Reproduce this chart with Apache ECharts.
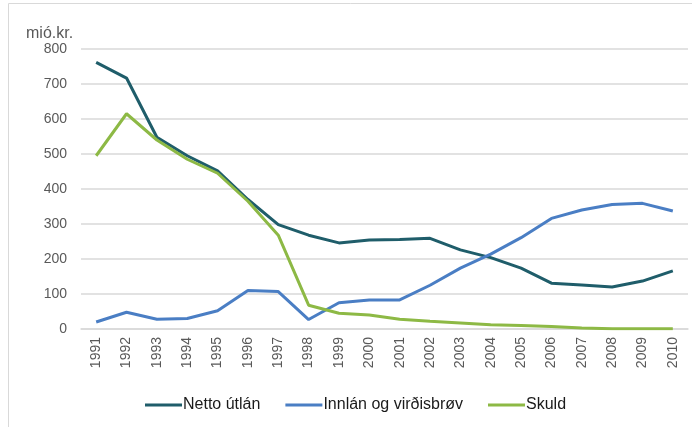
<!DOCTYPE html>
<html>
<head>
    <meta charset="utf-8">
    <title>Netto útlán</title>
    <script src="https://cdn.jsdelivr.net/npm/echarts@6/dist/echarts.min.js" type="text/javascript" charset="utf-8"></script>
    <style>
        html, body { margin: 0; padding: 0; background: #fff; }
    </style>
</head>
<body>
<div id="div01" style="width: 692px;height: 427px;"></div>
<script type="text/javascript">
    // ár
    var years = ['1991', '1992', '1993', '1994', '1995', '1996', '1997', '1998', '1999', '2000',
        '2001', '2002', '2003', '2004', '2005', '2006', '2007', '2008', '2009', '2010'];
    var nettoUtlan = [762, 717, 548, 495, 452, 370, 298, 268, 246, 254,
        256, 259, 226, 204, 174, 131, 126, 120, 137, 166];
    var innlan = [20, 48, 28, 30, 52, 110, 107, 27, 75, 83,
        83, 125, 174, 214, 261, 316, 340, 356, 359, 337];
    var skuld = [495, 615, 540, 485, 445, 365, 268, 68, 45, 40,
        28, 22, 17, 12, 10, 7, 3, 1, 1, 1];
    var yTicks = [0, 100, 200, 300, 400, 500, 600, 700, 800];

    var myChart = echarts.init(document.getElementById("div01"));

    function lineSeries(name, data, color) {
        return {
            name: name,
            type: 'line',
            data: data,
            symbol: 'none',
            lineStyle: { width: 3, color: color },
            itemStyle: { color: color }
        };
    }

    myChart.setOption({
        animation: false,
        textStyle: { fontFamily: 'Liberation Sans, Arial, sans-serif' },
        graphic: [{
            type: 'rect',
            shape: { x: 8.5, y: 3.5, width: 720, height: 460 },
            style: { fill: 'none', stroke: '#D9D9D9', lineWidth: 1 },
            silent: true
        }, {
            type: 'text',
            left: 26, top: 26,
            style: { text: 'mió.kr.', fill: '#595959', font: '16px Liberation Sans, Arial, sans-serif' }
        }],
        grid: { left: 81, right: 4, top: 49, bottom: 98, containLabel: false },
        legend: {
            bottom: 9,
            left: 140,
            itemWidth: 37,
            itemHeight: 3,
            itemGap: 25,
            icon: 'rect',
            textStyle: { color: '#1a1a1a', fontSize: 16, padding: [0, 0, 0, -4] },
            data: ['Netto útlán', 'Innlán og virðisbrøv', 'Skuld']
        },
        xAxis: {
            type: 'category',
            data: years,
            boundaryGap: true,
            axisLine: { lineStyle: { color: '#D9D9D9', width: 1.5 } },
            axisTick: { show: false },
            axisLabel: { rotate: 90, color: '#595959', fontSize: 14, margin: 8, interval: 0 }
        },
        yAxis: {
            type: 'value',
            min: yTicks[0],
            max: yTicks[yTicks.length - 1],
            interval: 100,
            axisLine: { show: false },
            axisTick: { show: false },
            axisLabel: { color: '#595959', fontSize: 14, margin: 14 },
            splitLine: { lineStyle: { color: '#D9D9D9', width: 1.5 } }
        },
        series: [
            lineSeries('Netto útlán', nettoUtlan, '#1F5D6A'),
            lineSeries('Innlán og virðisbrøv', innlan, '#4A7EC4'),
            lineSeries('Skuld', skuld, '#8DB945')
        ]
    });
</script>
</body>
</html>
